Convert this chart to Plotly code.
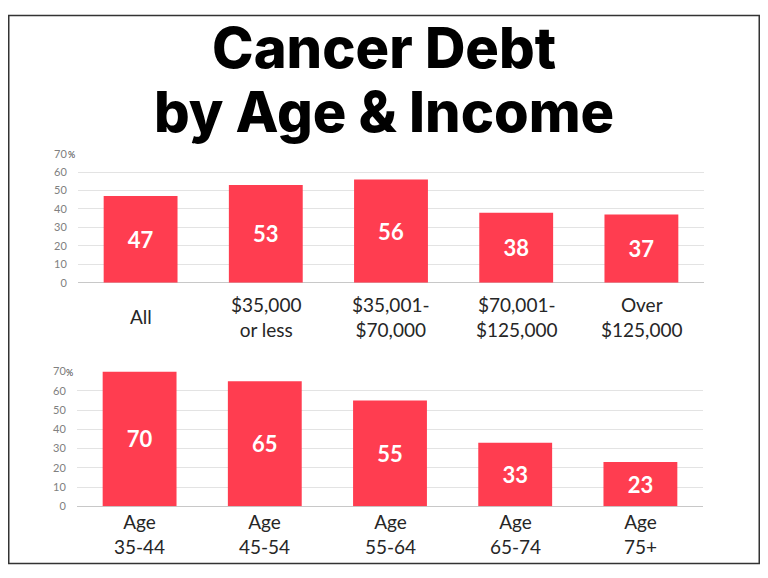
import plotly.graph_objects as go

# ---------------
# DATA
# ---------------
income_labels = ["All", "$35,000<br>or less", "$35,001-<br>$70,000",
                 "$70,001-<br>$125,000", "Over<br>$125,000"]
income_values = [47, 53, 56, 38, 37]

age_labels = ["Age<br>35-44", "Age<br>45-54", "Age<br>55-64",
              "Age<br>65-74", "Age<br>75+"]
age_values = [70, 65, 55, 33, 23]

y_ticks = [0, 10, 20, 30, 40, 50, 60, 70]
title_lines = ["Cancer Debt", "by Age & Income"]

# ---------------
# STYLE
# ---------------
# the page keeps the browser's 8px body margin, so the figure is drawn
# slightly smaller and positions below are given in page pixels
OFF = 8
W, H = 752, 562
BAR_COLOR = "#ff3d50"
GRID = "#e3e3e3"
TICK_GRAY = "#808080"
LABEL_FONT = "Lato"


def px_x(p):
    return (p - OFF) / W


def px_y(p):
    return 1 - (p - OFF) / H


fig = go.Figure()

for labels, values, xa, ya in [(income_labels, income_values, "x", "y"),
                               (age_labels, age_values, "x2", "y2")]:
    fig.add_trace(go.Bar(
        x=labels, y=values,
        xaxis=xa, yaxis=ya,
        marker=dict(color=BAR_COLOR, line=dict(width=0)),
        text=values, textposition="inside", insidetextanchor="middle",
        textfont=dict(family=LABEL_FONT, size=22, color="white", weight=700),
        hoverinfo="skip",
    ))

yaxis_common = dict(
    range=[0, 70], tickvals=y_ticks, ticktext=[str(v) for v in y_ticks],
    showgrid=True, gridcolor=GRID, gridwidth=1,
    zeroline=True, zerolinecolor="#c8c8c8", zerolinewidth=1,
    showline=False, ticks="outside", ticklen=0, ticklabelstandoff=8,
    tickfont=dict(family=LABEL_FONT, size=11, color=TICK_GRAY),
    fixedrange=True,
)
xaxis_common = dict(
    showticklabels=False, showgrid=False, zeroline=False, showline=False,
    ticks="", fixedrange=True,
)

annotations = []

# title, one annotation per line
for line, cy in zip(title_lines, [42, 107]):
    annotations.append(dict(
        x=0.5, y=px_y(cy), xref="paper", yref="paper", text=line,
        showarrow=False, xanchor="center", yanchor="middle",
        font=dict(family="Inter", size=56, color="black", weight=800),
    ))

# category labels under each bar, centred vertically like the original
for labels, xa, ya, shift in [(income_labels, "x", "y", -34),
                              (age_labels, "x2", "y2", -28)]:
    for lab in labels:
        annotations.append(dict(
            x=lab, y=0, xref=xa, yref=ya, text=lab, showarrow=False,
            xanchor="center", yanchor="middle", yshift=shift,
            font=dict(family=LABEL_FONT, size=19, color="#262626"),
        ))

# small "%" after the top tick of each panel
for ya, xr in [("y", 77), ("y2", 75)]:
    annotations.append(dict(
        x=px_x(xr), y=70, xref="paper", yref=ya, text="%", showarrow=False,
        xanchor="right", yanchor="middle", yshift=-1,
        font=dict(family=LABEL_FONT, size=9, color="#444444"),
    ))

fig.update_layout(
    width=W, height=H,
    margin=dict(l=0, r=0, t=0, b=0),
    paper_bgcolor="white",
    plot_bgcolor="rgba(0,0,0,0)",
    showlegend=False,
    bargap=0.41,
    xaxis=dict(domain=[px_x(78), px_x(704)], anchor="y", **xaxis_common),
    yaxis=dict(domain=[px_y(282), px_y(150)], anchor="x", **yaxis_common),
    xaxis2=dict(domain=[px_x(77), px_x(703)], anchor="y2", **xaxis_common),
    yaxis2=dict(domain=[px_y(511), px_y(373)], anchor="x2", **yaxis_common),
    annotations=annotations,
    shapes=[dict(
        type="rect", xref="paper", yref="paper",
        x0=0.001, x1=0.999, y0=0.001, y1=0.999,
        line=dict(color="#333333", width=1.5),
        layer="below",
    )],
)

fig.write_html("out.html")
